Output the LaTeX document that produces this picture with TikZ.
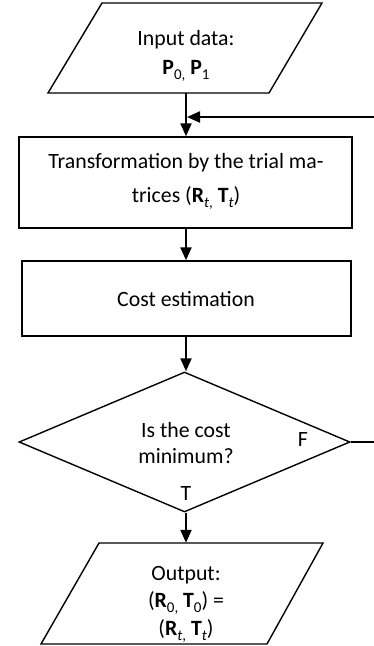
\documentclass[tikz,border=0pt]{standalone}
\usepackage{fontspec}
\setmainfont{Carlito}
\usetikzlibrary{arrows.meta,shapes.geometric}
\newcommand{\bsub}[2]{\textbf{#1}\raisebox{-5pt}{\fontsize{15}{15}\selectfont #2}}
\begin{document}
\begin{tikzpicture}[x=1pt,y=-1pt,
  every node/.style={font=\fontsize{21.8}{26}\selectfont, inner sep=0pt},
  txt/.style={anchor=base},
  shapeline/.style={draw=black, line width=1.4pt, line join=miter},
  flow/.style={draw=black, line width=2.2pt, -{Triangle[length=13pt,width=11pt]}},
  plainflow/.style={draw=black, line width=2.2pt}]
\useasboundingbox (0,0) rectangle (374,646);
% input
\node[minimum height=90pt, minimum width=160pt] (in) at (186,48) {};
\draw[shapeline] (102,3) -- (322,3) -- (269,93) -- (48,93) -- cycle;
\node[txt] (in1) at (186,45) {Input data:};
\node[txt] (in2) at (186,74) {\bsub{P}{0,} \bsub{P}{1}};
% transformation
\node[shapeline, rectangle, minimum width=333pt, minimum height=91pt] (tr) at (185.5,182.5) {};
\node[txt] (tr1) at (186,168) {Transformation by the trial ma-};
\node[txt] (tr2) at (186,202) {trices (\bsub{R}{\textit{t},} \bsub{T}{\textit{t}})};
% cost
\node[shapeline, rectangle, minimum width=329pt, minimum height=75pt] (cost) at (186.5,298.5) {};
\node[txt] (cost1) at (186,306.5) {Cost estimation};
% decision
\node[shapeline, diamond, minimum width=331pt, minimum height=140pt] (dec) at (184.5,442) {};
\node[txt] (dec1) at (186,437.3) {Is the cost};
\node[txt] (dec2) at (186,463.5) {minimum?};
\node[txt] (F) at (303,446.5) {F};
\node[txt] (T) at (186,500) {T};
% output
\node[minimum height=101pt, minimum width=160pt] (out) at (186,593.5) {};
\draw[shapeline] (99,543) -- (323,543) -- (267,644) -- (41,644) -- cycle;
\node[txt] (out1) at (186,580) {Output:};
\node[txt] (out2) at (186,607.5) {(\bsub{R}{0,} \bsub{T}{0}) =};
\node[txt] (out3) at (186,635) {(\bsub{R}{\textit{t},} \bsub{T}{\textit{t}})};
% connectors
\coordinate (j) at (186,117);
\coordinate (fb) at (400,117);
\draw[flow] (in.south -| j) -- (tr.north -| j);
\draw[flow] (tr.south -| j) -- (cost.north -| j);
\draw[flow] (cost.south -| j) -- (dec.north -| j);
\draw[flow] (dec.south -| j) -- (out.north -| j);
\draw[plainflow] (dec.east) -- (dec.east -| fb) -- (fb);
\draw[flow] (fb) -- ([xshift=1pt]j);
\end{tikzpicture}
\end{document}
